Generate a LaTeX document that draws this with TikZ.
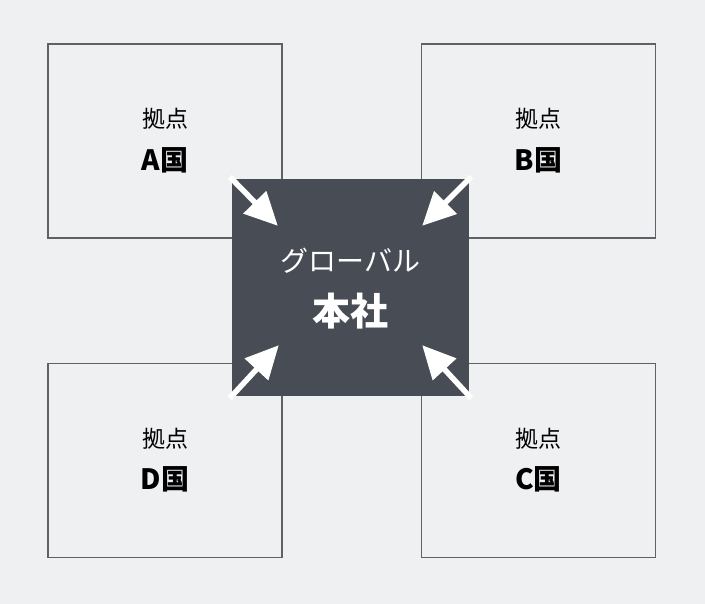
\documentclass[tikz,border=0pt]{standalone}
\usepackage{fontspec}
\setmainfont{Noto Sans CJK JP}
\usetikzlibrary{arrows.meta}
\definecolor{bgGray}{HTML}{EFF0F2}
\definecolor{edgeGray}{HTML}{5E6168}
\definecolor{hqDark}{HTML}{484C55}
\tikzset{
  sitebox/.style={rectangle,draw=edgeGray,line width=1.5pt,minimum width=234pt,minimum height=194pt,inner sep=0pt},
  sitelabel/.style={font=\fontsize{23}{23}\selectfont,inner sep=0pt},
  sitename/.style={font=\fontsize{28}{28}\selectfont\bfseries,inner sep=0pt},
  inarrow/.style={draw=white,line width=5.5pt,-{Triangle[length=33pt,width=31pt]}}
}
\begin{document}
\begin{tikzpicture}[x=1pt,y=-1pt]
    \fill[bgGray] (0,0) rectangle (705,604);
    \useasboundingbox (0,0) rectangle (705,604);
    \node[sitebox] (A) at (165,141) {};
    \node[sitebox] (B) at (538.5,141) {};
    \node[sitebox] (D) at (165,460.5) {};
    \node[sitebox] (C) at (538.5,460.5) {};
    \node[sitelabel] (A1) at ([yshift=22pt]A.center) {拠点};
    \node[sitename] (A2) at ([yshift=-19pt]A.center) {A国};
    \node[sitelabel] (B1) at ([yshift=22pt]B.center) {拠点};
    \node[sitename] (B2) at ([yshift=-19pt]B.center) {B国};
    \node[sitelabel] (D1) at ([yshift=22pt]D.center) {拠点};
    \node[sitename] (D2) at ([yshift=-19pt]D.center) {D国};
    \node[sitelabel] (C1) at ([yshift=22pt]C.center) {拠点};
    \node[sitename] (C2) at ([yshift=-19pt]C.center) {C国};
    \node[rectangle,fill=hqDark,minimum width=237pt,minimum height=217pt,inner sep=0pt] (HQ) at (350.5,287.5) {};
    \node[text=white,font=\fontsize{28}{28}\selectfont,inner sep=0pt] (HQ1) at (350.5,261) {グローバル};
    \node[text=white,font=\fontsize{38}{38}\selectfont\bfseries,inner sep=0pt] (HQ2) at (350.5,311) {本社};
    \draw[inarrow] ([shift={(-2,-2)}]HQ.north west) coordinate (a0) -- ([shift={(46,47)}]HQ.north west);
    \draw[inarrow] ([shift={(2,-2)}]HQ.north east) coordinate (b0) -- ([shift={(-47,47)}]HQ.north east);
    \draw[inarrow] ([shift={(2,2)}]HQ.south east) coordinate (c0) -- ([shift={(-47,-51)}]HQ.south east);
    \draw[inarrow] ([shift={(-2,2)}]HQ.south west) coordinate (d0) -- ([shift={(47,-51)}]HQ.south west);
\end{tikzpicture}
\end{document}
